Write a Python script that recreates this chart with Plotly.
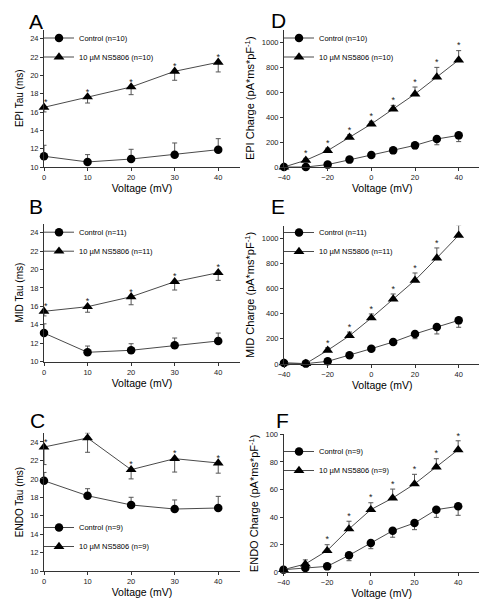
import plotly.graph_objects as go

# ---------------- data ----------------
volt_tau = [0, 10, 20, 30, 40]
volt_q = [-40, -30, -20, -10, 0, 10, 20, 30, 40]

# A: EPI Tau
epi_tau_ctrl = [11.17, 10.55, 10.87, 11.34, 11.89]
epi_tau_ctrl_err = [1.2, 0.8, 1.06, 1.28, 1.2]
epi_tau_ns = [16.51, 17.64, 18.73, 20.44, 21.42]
epi_tau_ns_err = [0.5, 0.66, 0.84, 0.98, 1.05]
# B: MID Tau
mid_tau_ctrl = [13.11, 11.02, 11.24, 11.78, 12.25]
mid_tau_ctrl_err = [1.0, 0.68, 0.71, 0.79, 0.86]
mid_tau_ns = [15.47, 15.97, 17.05, 18.68, 19.66]
mid_tau_ns_err = [0.5, 0.6, 0.87, 0.9, 0.83]
# C: ENDO Tau
endo_tau_ctrl = [19.8, 18.18, 17.18, 16.74, 16.85]
endo_tau_ctrl_err = [0.9, 0.76, 0.83, 0.98, 1.26]
endo_tau_ns = [23.45, 24.43, 21.0, 22.19, 21.72]
endo_tau_ns_err_up = [0, 0.55, 0, 0, 0]
endo_tau_ns_err_dn = [1.9, 1.55, 1.0, 1.45, 1.1]
# D: EPI Charge
epi_q_ctrl = [0, 0, 19, 59, 96, 133, 173, 224, 253]
epi_q_ctrl_err = [0, 0, 8, 12, 15, 18, 27, 46, 50]
epi_q_ns = [0, 54, 131, 237, 344, 464, 584, 720, 856]
epi_q_ns_err = [0, 15, 20, 20, 22, 29, 56, 77, 75]
# E: MID Charge
mid_q_ctrl = [8, 3, 21, 69, 122, 175, 239, 294, 347]
mid_q_ctrl_err = [0, 0, 5, 10, 15, 20, 38, 55, 55]
mid_q_ns = [8, 3, 109, 225, 366, 517, 666, 843, 1024]
mid_q_ns_err = [0, 0, 20, 29, 32, 40, 58, 80, 80]
# F: ENDO Charge
endo_q_ctrl = [1.9, 3.1, 4.3, 12.3, 21.2, 30.1, 35.7, 45.4, 47.8]
endo_q_ctrl_err = [0, 0, 0, 3.9, 4.1, 4.7, 4.8, 5.6, 6.5]
endo_q_ns = [1.9, 6.0, 15.7, 31.4, 45.4, 53.8, 64.0, 76.3, 88.8]
endo_q_ns_err = [0, 3, 4.3, 5.6, 5, 6.5, 7, 6, 6.5]

# significance flags (1 = asterisk)
sig_a = [1, 1, 1, 1, 1]
sig_b = [1, 1, 1, 1, 1]
sig_c = [1, 0, 1, 1, 1]
sig_d = [0, 1, 1, 1, 1, 1, 1, 1, 1]
sig_e = [0, 0, 1, 1, 1, 1, 1, 1, 1]
sig_f = [0, 0, 1, 1, 1, 1, 1, 1, 1]

n_labels = ["10", "11", "9", "10", "11", "9"]
panel_letters = ["A", "B", "C", "D", "E", "F"]
y_titles = ["EPI Tau (ms)", "MID Tau (ms)", "ENDO Tau (ms)",
            "EPI Charge (pA*ms*pF<sup>-1</sup>)",
            "MID Charge (pA*ms*pF<sup>-1</sup>)",
            "ENDO Charge (pA*ms*pF<sup>-1</sup>)"]

# ---------------- layout geometry (pixels) ----------------
W, H = 487, 600
FONT = "Liberation Sans, Arial, sans-serif"
LINE_C = "#4a4a4a"
ERR_C = "#555555"
AX_C = "#333333"

def xd(p0, p1):
    return [p0 / W, p1 / W]

def yd(top, bottom):
    return [1 - bottom / H, 1 - top / H]

panels = [
    dict(x=volt_tau, c=epi_tau_ctrl, ce_up=epi_tau_ctrl_err, ce_dn=None,
         n=epi_tau_ns, ne_up=None, ne_dn=epi_tau_ns_err, sig=sig_a,
         xdom=xd(36, 232), ydom=yd(21.5, 159), xr=[0, 45], yr=[10, 25],
         xt=[0, 10, 20, 30, 40], yt=list(range(10, 25, 2)),
         leg=(31, 15.5), letter=(28, 13), tsize=10),
    dict(x=volt_tau, c=mid_tau_ctrl, ce_up=mid_tau_ctrl_err, ce_dn=None,
         n=mid_tau_ns, ne_up=None, ne_dn=mid_tau_ns_err, sig=sig_b,
         xdom=xd(36, 232), ydom=yd(215.5, 353.7), xr=[0, 45], yr=[10, 25],
         xt=[0, 10, 20, 30, 40], yt=list(range(10, 25, 2)),
         leg=(31, 209.7), letter=(28, 198), tsize=10),
    dict(x=volt_tau, c=endo_tau_ctrl, ce_up=endo_tau_ctrl_err, ce_dn=None,
         n=endo_tau_ns, ne_up=endo_tau_ns_err_up, ne_dn=endo_tau_ns_err_dn, sig=sig_c,
         xdom=xd(36, 232), ydom=yd(424.7, 563.3), xr=[0, 45], yr=[10, 25],
         xt=[0, 10, 20, 30, 40], yt=list(range(10, 25, 2)),
         leg=(31, 505), letter=(29, 412), tsize=10),
    dict(x=volt_q, c=epi_q_ctrl, ce_up=None, ce_dn=epi_q_ctrl_err,
         n=epi_q_ns, ne_up=epi_q_ns_err, ne_dn=None, sig=sig_d,
         xdom=xd(276, 472.5), ydom=yd(21.5, 159), xr=[-40, 50], yr=[0, 1100],
         xt=[-40, -20, 0, 20, 40], yt=list(range(0, 1001, 200)),
         leg=(271, 15.5), letter=(270, 12), tsize=11),
    dict(x=volt_q, c=mid_q_ctrl, ce_up=None, ce_dn=mid_q_ctrl_err,
         n=mid_q_ns, ne_up=mid_q_ns_err, ne_dn=None, sig=sig_e,
         xdom=xd(276, 472.5), ydom=yd(217.7, 356), xr=[-40, 50], yr=[0, 1100],
         xt=[-40, -20, 0, 20, 40], yt=list(range(0, 1001, 200)),
         leg=(271, 210), letter=(270, 198), tsize=11),
    dict(x=volt_q, c=endo_q_ctrl, ce_up=None, ce_dn=endo_q_ctrl_err,
         n=endo_q_ns, ne_up=endo_q_ns_err, ne_dn=None, sig=sig_f,
         xdom=xd(275.5, 472), ydom=yd(426.3, 564.3), xr=[-40, 50], yr=[0, 100],
         xt=[-40, -20, 0, 20, 40], yt=list(range(0, 101, 20)),
         leg=(271, 429), letter=(274, 412), tsize=11),
]

fig = go.Figure()
layout = dict(width=W, height=H, margin=dict(l=0, r=0, t=0, b=0),
              paper_bgcolor="white", plot_bgcolor="white",
              font=dict(family=FONT, color="black", size=8),
              showlegend=True)
annotations = []

def err_dict(up, dn, n):
    zeros = [0] * n
    return dict(type="data", symmetric=False,
                array=up if up is not None else zeros,
                arrayminus=dn if dn is not None else zeros,
                color=ERR_C, thickness=1, width=2.5)

for i, p in enumerate(panels):
    k = "" if i == 0 else str(i + 1)
    xa, ya = "x" + k, "y" + k
    lg = "legend" + k
    npts = len(p["x"])
    fig.add_trace(go.Scatter(
        x=p["x"], y=p["c"], mode="lines+markers", xaxis=xa, yaxis=ya,
        name=f"Control (n={n_labels[i]})", legend=lg,
        line=dict(color=LINE_C, width=1),
        marker=dict(symbol="circle", size=8.5, color="black"),
        error_y=err_dict(p["ce_up"], p["ce_dn"], npts), cliponaxis=False))
    fig.add_trace(go.Scatter(
        x=p["x"], y=p["n"], mode="lines+markers", xaxis=xa, yaxis=ya,
        name=f"10 \u00b5M NS5806 (n={n_labels[i]})", legend=lg,
        line=dict(color=LINE_C, width=1),
        marker=dict(symbol="triangle-up", size=9.5, color="black"),
        error_y=err_dict(p["ne_up"], p["ne_dn"], npts), cliponaxis=False))
    # asterisks above the drug points
    up = p["ne_up"] if p["ne_up"] is not None else [0] * npts
    idx = [j for j in range(npts) if p["sig"][j]]
    sx = [p["x"][j] for j in idx]
    sy = [p["n"][j] + up[j] for j in idx]
    tpos = ["top right" if p["x"][j] == 0 and i < 3 else "top center" for j in idx]
    fig.add_trace(go.Scatter(
        x=sx, y=sy, mode="text", xaxis=xa, yaxis=ya, text=["*"] * len(sx),
        textposition=tpos, textfont=dict(size=9, color="#222", family=FONT),
        showlegend=False, hoverinfo="skip", cliponaxis=False))

    axis_common = dict(showline=True, linecolor=AX_C, linewidth=1, ticks="outside",
                       ticklen=3, tickcolor=AX_C, tickwidth=1, showgrid=False,
                       zeroline=False, automargin=False,
                       tickfont=dict(size=7.5, family=FONT, color="#222"))
    layout["xaxis" + k] = dict(axis_common, domain=p["xdom"], range=p["xr"],
                               tickvals=p["xt"], anchor=ya,
                               title=dict(text="Voltage (mV)", standoff=3,
                                          font=dict(size=10.5, family=FONT)))
    layout["yaxis" + k] = dict(axis_common, domain=p["ydom"], range=p["yr"],
                               tickvals=p["yt"], anchor=xa,
                               title=dict(text=y_titles[i], standoff=4,
                                          font=dict(size=p["tsize"], family=FONT)))
    layout[lg] = dict(x=p["leg"][0] / W, y=1 - p["leg"][1] / H, xanchor="left",
                      yanchor="top", bgcolor="rgba(0,0,0,0)",
                      font=dict(size=7.5, family=FONT), tracegroupgap=0,
                      itemwidth=30)
    annotations.append(dict(text=panel_letters[i], x=p["letter"][0] / W,
                            y=1 - p["letter"][1] / H, xref="paper", yref="paper",
                            xanchor="center", yanchor="middle", showarrow=False,
                            font=dict(size=21, family=FONT, color="black")))

layout["annotations"] = annotations
fig.update_layout(**layout)
fig.write_html("out.html")
